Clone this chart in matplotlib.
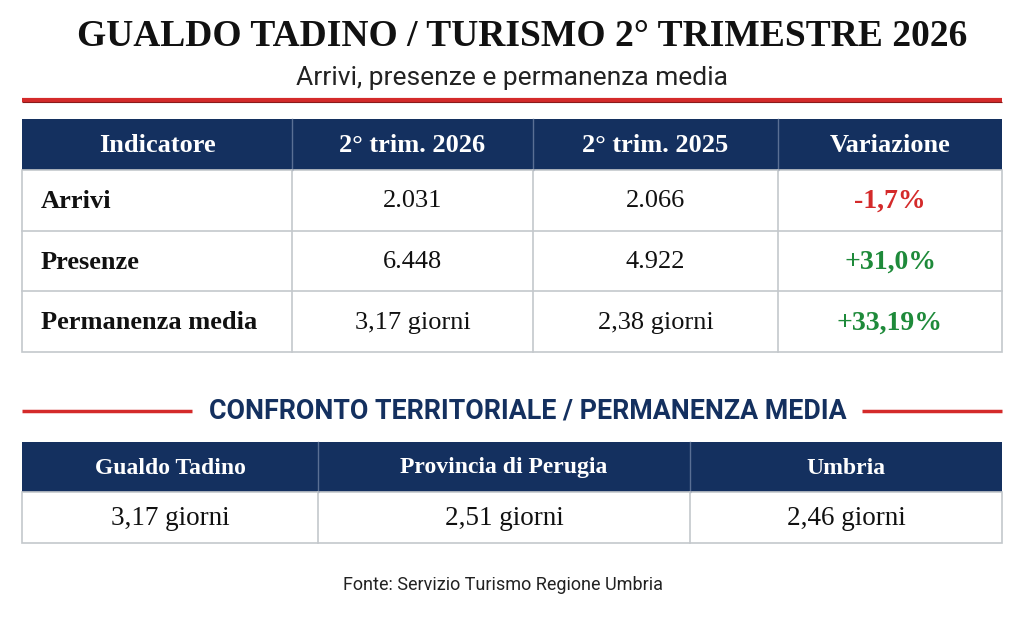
import matplotlib
matplotlib.use("Agg")
import matplotlib.pyplot as plt
from matplotlib.patches import Rectangle

# --- data ---
title = "GUALDO TADINO / TURISMO 2° TRIMESTRE 2026"
subtitle = "Arrivi, presenze e permanenza media"
headers = ["Indicatore", "2° trim. 2026", "2° trim. 2025", "Variazione"]
indicators = ["Arrivi", "Presenze", "Permanenza media"]
q2_2026 = ["2.031", "6.448", "3,17 giorni"]
q2_2025 = ["2.066", "4.922", "2,38 giorni"]
variation = ["-1,7%", "+31,0%", "+33,19%"]
section_title = "CONFRONTO TERRITORIALE / PERMANENZA MEDIA"
areas = ["Gualdo Tadino", "Provincia di Perugia", "Umbria"]
stay_by_area = ["3,17 giorni", "2,51 giorni", "2,46 giorni"]
source = "Fonte: Servizio Turismo Regione Umbria"

NAVY = "#14305f"
RED = "#d42a2a"
GREEN = "#1e8a3a"
GRID = "#c4c8cc"
SERIF = ["Liberation Serif", "DejaVu Serif"]
SANS = ["Roboto", "DejaVu Sans"]

fig = plt.figure(figsize=(10.24, 6.30), dpi=100)
ax = fig.add_axes([0, 0, 1, 1])
ax.set_xlim(0, 1024)
ax.set_ylim(630, 0)
ax.axis("off")

ax.text(522, 37, title, ha="center", va="center", fontsize=27,
        fontweight="bold", family=SERIF, color="#111111")
ax.text(512, 78, subtitle, ha="center", va="center", fontsize=19,
        family=SANS, color="#222222")
ax.plot([22, 1002], [100, 100], color=RED, lw=3, solid_capstyle="butt")
ax.plot([22, 1002], [101.5, 101.5], color="#8a1a1a", lw=0.8, solid_capstyle="butt")


def draw_table(cols, top, head_h, row_h, head, rows, colors, head_fs, val_fs,
               first_left=False):
    n_rows = len(rows[0])
    # header band
    ax.add_patch(Rectangle((cols[0], top), cols[-1] - cols[0], head_h,
                           facecolor=NAVY, edgecolor="none"))
    for j, h in enumerate(head):
        cx = (cols[j] + cols[j + 1]) / 2
        ax.text(cx, top + head_h / 2 + 1, h, ha="center", va="center",
                fontsize=head_fs, fontweight="bold", family=SERIF, color="white")
        if j > 0:
            ax.plot([cols[j], cols[j]], [top, top + head_h], color="#5a6f94", lw=1)
    body_top = top + head_h
    bottom = body_top + row_h * n_rows
    ax.add_patch(Rectangle((cols[0], body_top), cols[-1] - cols[0], bottom - body_top,
                           facecolor="white", edgecolor=GRID, lw=1.2))
    for j in range(1, len(cols) - 1):
        ax.plot([cols[j], cols[j]], [body_top, bottom], color=GRID, lw=1.2)
    for i in range(1, n_rows):
        y = body_top + row_h * i
        ax.plot([cols[0], cols[-1]], [y, y], color=GRID, lw=1.2)
    for j, col in enumerate(rows):
        for i, val in enumerate(col):
            cy = body_top + row_h * (i + 0.5) + 1
            if first_left and j == 0:
                ax.text(cols[0] + 19, cy, val, ha="left", va="center", fontsize=val_fs,
                        fontweight="bold", family=SERIF, color="#111111")
            else:
                cx = (cols[j] + cols[j + 1]) / 2
                c = colors[j][i] if colors[j] is not None else "#111111"
                w = "bold" if colors[j] is not None else "normal"
                fs = val_fs + 1 if colors[j] is not None else val_fs
                ax.text(cx, cy, val, ha="center", va="center", fontsize=fs,
                        fontweight=w, family=SERIF, color=c)


var_colors = [RED if v.startswith("-") else GREEN for v in variation]
draw_table([22, 292, 533, 778, 1002], 119, 51, 60.7,
           headers, [indicators, q2_2026, q2_2025, variation],
           [None, None, None, var_colors], 19, 19, first_left=True)

ax.plot([22, 192], [411, 411], color=RED, lw=2.5, solid_capstyle="butt")
ax.plot([862, 1002], [411, 411], color=RED, lw=2.5, solid_capstyle="butt")
ax.text(528, 411, section_title, ha="center", va="center", fontsize=19.3,
        fontweight="bold", family=SANS, color=NAVY)

draw_table([22, 318, 690, 1002], 442, 50, 51,
           areas, [[v] for v in stay_by_area], [None, None, None], 17, 19.5)

ax.text(503, 585, source, ha="center", va="center", fontsize=13,
        family=SANS, color="#222222")

fig.savefig("out.png", dpi=100, facecolor="white")
